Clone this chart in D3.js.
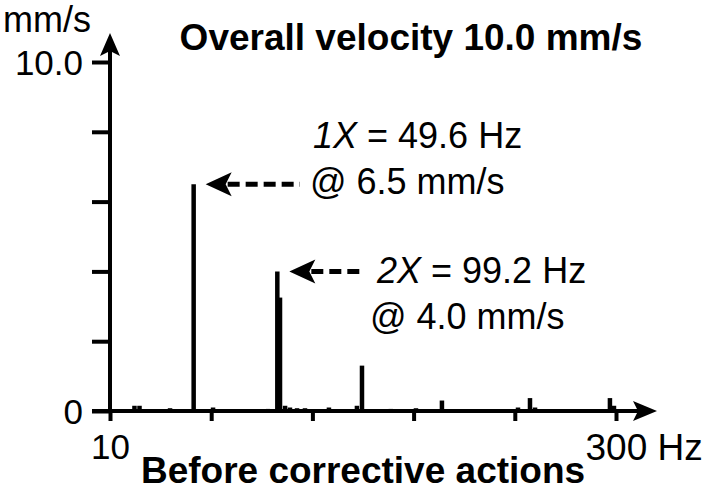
<!DOCTYPE html>
<html><head><meta charset="utf-8">
<script src="https://cdn.jsdelivr.net/npm/d3@7"></script>
<style>
body{margin:0;background:#fff}
svg{display:block}
text{font-family:"Liberation Sans",Arial,Helvetica,sans-serif;fill:#000}
</style>
</head><body>
<svg id="c" width="706" height="492"></svg>
<script>
// ---- data ----
const freqs = [14.5, 17.5, 35.6, 49.6, 54.5, 61.1, 84.2, 93.7, 99.2, 100.8, 103.8, 106.7, 110.9, 115.6, 129.8, 146.4, 149.4, 166.5, 181.4, 196.8, 230.6, 241.9, 249.0, 252.0, 279.8, 296.4, 298.8];
const amps  = [0.15, 0.15, 0.08, 6.5, 0.05, 0.10, 0.03, 0.06, 4.0, 3.25, 0.15, 0.10, 0.08, 0.08, 0.10, 0.15, 1.3, 0.06, 0.08, 0.30, 0.05, 0.10, 0.37, 0.10, 0.05, 0.37, 0.15];
const yTicks = [0, 2, 4, 6, 8, 10];
const yTickLabels = ["0", "", "", "", "", "10.0"];
const xTicks = [0, 60, 120, 180, 240, 300];
const xTickLabels = ["10", "", "", "", "", "300 Hz"];
const peakFreqs = [49.6, 99.2];
const peakAmps = [6.5, 4.0];
const peakNames = ["1X", "2X"];
const peakHz = ["49.6", "99.2"];
const titleText = "Overall velocity 10.0 mm/s";
const subtitleText = "Before corrective actions";
const yUnit = "mm/s";

// ---- layout ----
const svg = d3.select("#c");
const x = d3.scaleLinear().domain([0, 300]).range([110, 616]);
const y = d3.scaleLinear().domain([0, 10]).range([411, 62]);
const SW = 4;

// bars
svg.append("g").selectAll("line").data(freqs).join("line")
  .attr("x1", d => x(d)).attr("x2", d => x(d))
  .attr("y1", y(0)).attr("y2", (d, i) => y(amps[i]))
  .attr("stroke", "#000").attr("stroke-width", 4.5);

// y axis
const gy = svg.append("g").attr("transform", `translate(${x(0)},0)`)
  .call(d3.axisLeft(y).tickValues(yTicks).tickFormat((d, i) => yTickLabels[i])
    .tickSize(18).tickSizeOuter(0).tickPadding(9));
gy.select(".domain").remove();
gy.selectAll(".tick line").attr("stroke", "#000").attr("stroke-width", SW);
gy.selectAll(".tick text").attr("font-size", 35).attr("font-family", null).attr("dy", "0.36em");

// x axis
const gx = svg.append("g").attr("transform", `translate(0,${y(0)})`)
  .call(d3.axisBottom(x).tickValues(xTicks).tickFormat((d, i) => xTickLabels[i])
    .tickSize(10).tickSizeOuter(0).tickPadding(13));
gx.select(".domain").remove();
gx.selectAll(".tick line").attr("stroke", "#000").attr("stroke-width", SW);
gx.selectAll(".tick text").attr("font-size", 35).attr("font-family", null);
gx.selectAll(".tick text").filter((d, i) => i === xTicks.length - 1)
  .attr("font-size", 37).attr("text-anchor", "start").attr("dx", -31);

// axis lines with arrows
svg.append("line").attr("x1", x(0)).attr("x2", x(0)).attr("y1", y(0) + 2).attr("y2", 48)
  .attr("stroke", "#000").attr("stroke-width", SW);
svg.append("line").attr("x1", x(0) - 18).attr("x2", 640).attr("y1", y(0)).attr("y2", y(0))
  .attr("stroke", "#000").attr("stroke-width", SW);
const ax = x(0);
svg.append("path").attr("d", `M${ax},33 L${ax + 10},56 L${ax},51 L${ax - 10},56 Z`).attr("fill", "#000");
const ay = y(0);
svg.append("path").attr("d", `M657,${ay} L633,${ay - 10} L638,${ay} L633,${ay + 10} Z`).attr("fill", "#000");

// annotations
const labelPos = [
  {l1x: 313, l1y: 148, l2x: 310, l2y: 194, dashEnd: 300},
  {l1x: 377, l1y: 283, l2x: 370, l2y: 329, dashEnd: 364}
];
peakFreqs.forEach((f, i) => {
  const tipX = x(f) + 12, tipY = y(peakAmps[i]);
  svg.append("path")
    .attr("d", `M${tipX},${tipY} L${tipX + 26},${tipY - 12} L${tipX + 20},${tipY} L${tipX + 26},${tipY + 12} Z`)
    .attr("fill", "#000");
  svg.append("line").attr("x1", tipX + 22).attr("x2", labelPos[i].dashEnd)
    .attr("y1", tipY).attr("y2", tipY)
    .attr("stroke", "#000").attr("stroke-width", 5).attr("stroke-dasharray", "12,6");
  const t1 = svg.append("text").attr("x", labelPos[i].l1x).attr("y", labelPos[i].l1y).attr("font-size", 36);
  t1.append("tspan").attr("font-style", "italic").text(peakNames[i]);
  t1.append("tspan").text(` = ${peakHz[i]} Hz`);
  svg.append("text").attr("x", labelPos[i].l2x).attr("y", labelPos[i].l2y).attr("font-size", 36)
    .text(`@ ${peakAmps[i].toFixed(1)} mm/s`);
});

// titles
svg.append("text").attr("x", 411).attr("y", 50).attr("text-anchor", "middle")
  .attr("font-size", 37).attr("font-weight", "bold").text(titleText);
svg.append("text").attr("x", 363).attr("y", 483).attr("text-anchor", "middle")
  .attr("font-size", 37).attr("font-weight", "bold").text(subtitleText);
svg.append("text").attr("x", 3).attr("y", 32).attr("font-size", 36).text(yUnit);
</script>
</body></html>
